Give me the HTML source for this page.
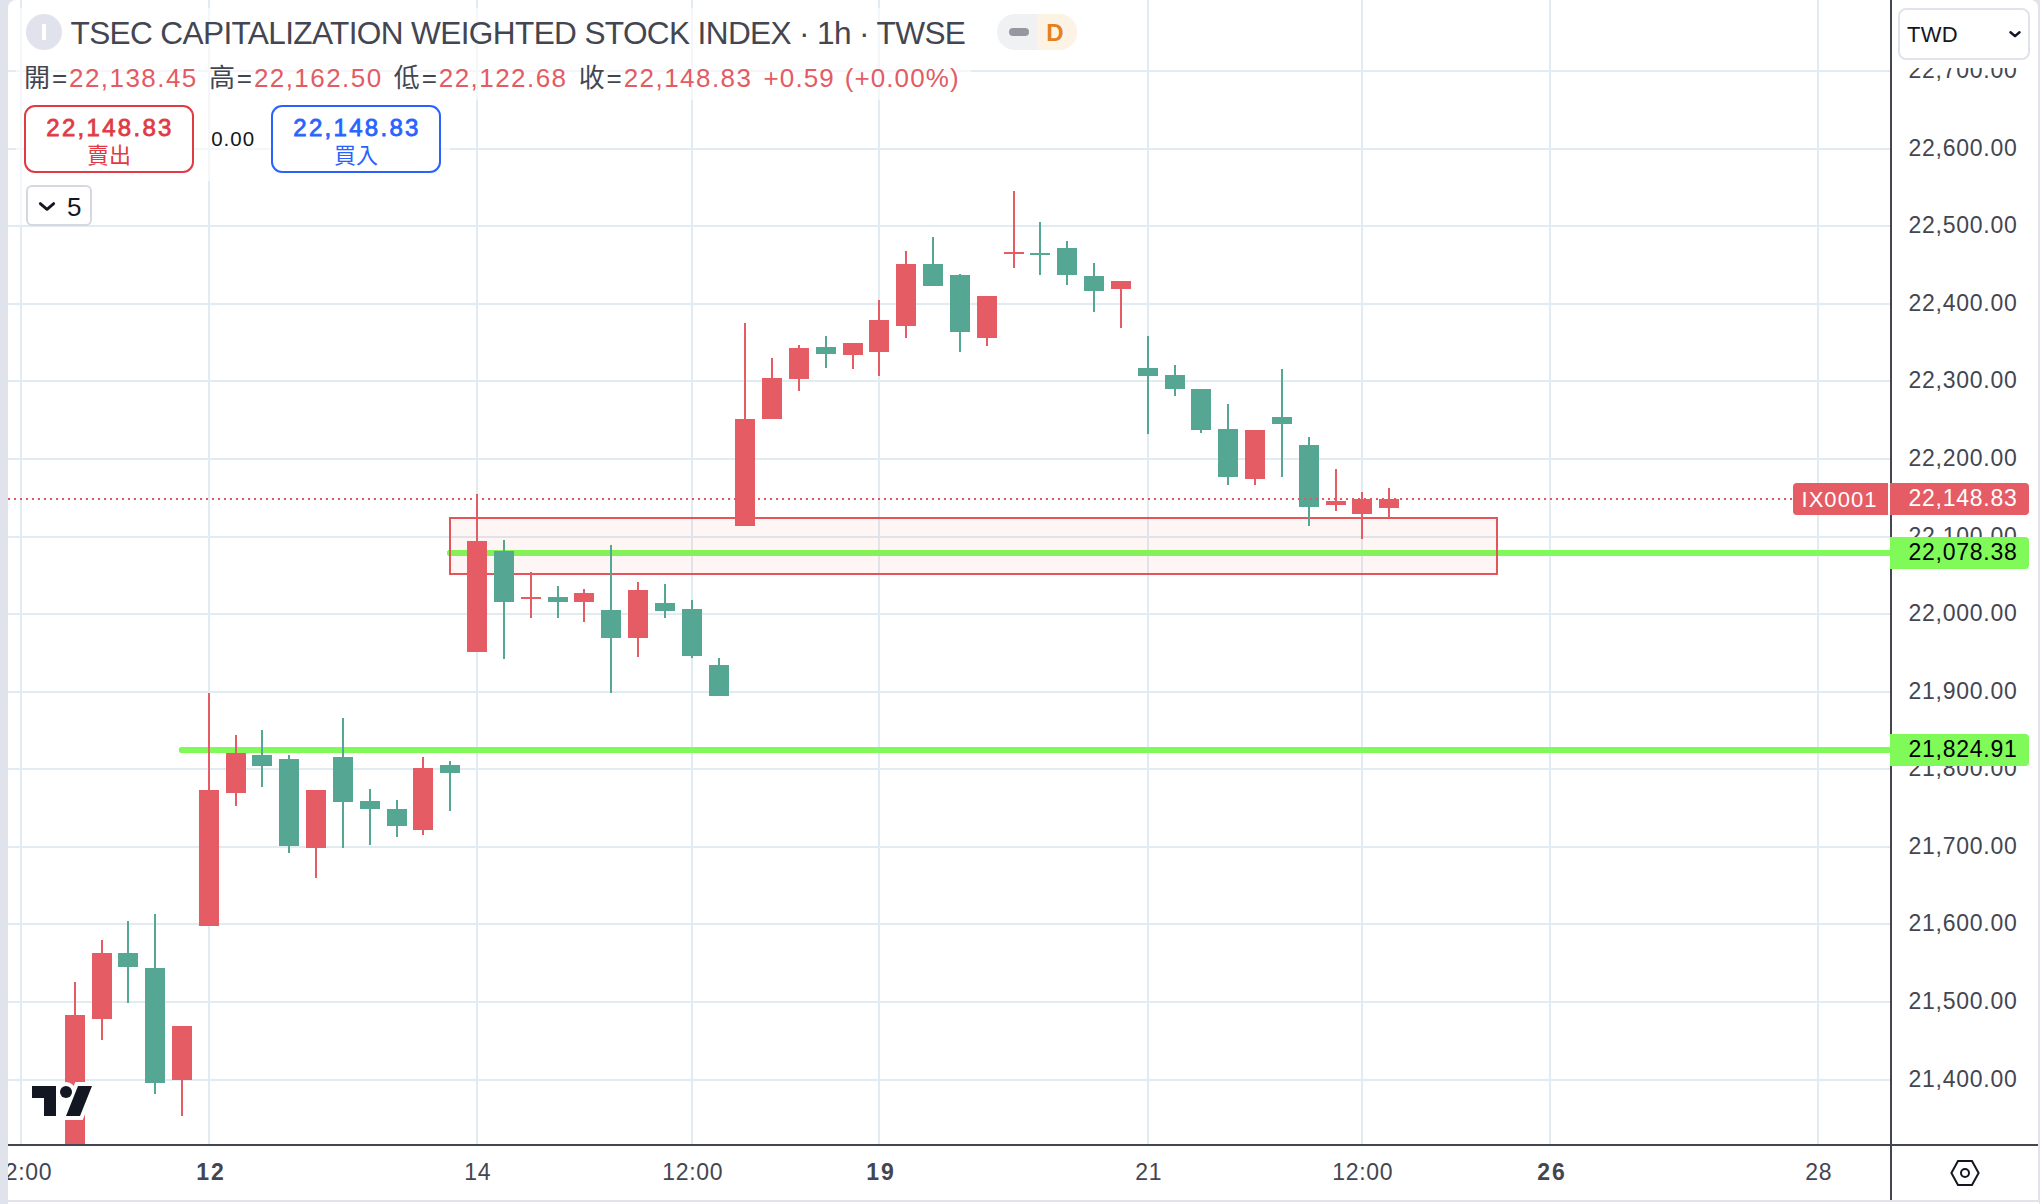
<!DOCTYPE html>
<html lang="zh-Hant">
<head>
<meta charset="utf-8">
<title>TSEC CAPITALIZATION WEIGHTED STOCK INDEX</title>
<style>
html,body{margin:0;padding:0}
body{width:2040px;height:1204px;overflow:hidden;background:#e0e3eb;position:relative;
 font-family:"Liberation Sans","Noto Sans CJK TC",sans-serif;color:#434651}
.panel{position:absolute;left:8px;top:0;width:2030px;height:1200px;background:#fff;border-radius:8px 8px 0 0}
.below{position:absolute;left:8px;top:1202px;width:2031px;height:2px;background:#fff}
.clip{position:absolute;left:8px;top:0;width:2030px;height:1200px;overflow:hidden}
.clip>*{position:absolute}
svg.chart{left:-8px;top:0}
.axv{left:1882px;top:0;width:2px;height:1200px;background:#434651}
.axh{left:0;top:1144px;width:2030px;height:2px;background:#434651}
.pl{left:1890.5px;width:129px;height:32px;line-height:32px;text-align:center;font-size:23px;letter-spacing:.75px;color:#434651;white-space:nowrap}
.tl{top:1154px;width:120px;height:36px;line-height:36px;text-align:center;font-size:23px;letter-spacing:.7px;color:#434651;white-space:nowrap;margin-left:-7.3px}
.tl.b{font-weight:bold;letter-spacing:2px;padding-left:1.3px}
.lbg{background:rgba(255,255,255,.62)}
.title{left:62.5px;top:13.7px;height:38px;line-height:38px;font-size:31.6px;color:#434651;white-space:nowrap;letter-spacing:-0.64px}
.logo{left:18px;top:14px;width:36px;height:36px;border-radius:50%;background:#e0e3eb}
.logo i{position:absolute;left:16px;top:10px;width:4px;height:16px;background:#fff}
.pill{left:989px;top:14px;width:80px;height:36px;border-radius:18px;overflow:hidden;background:#f0f1f3}
.pill .r{position:absolute;left:40px;top:0;width:40px;height:36px;background:#fdf3e5}
.pill .d{position:absolute;left:12px;top:14px;width:20px;height:8px;border-radius:4px;background:#9598a1}
.pill b{position:absolute;left:40px;top:0;width:36px;text-align:center;line-height:37px;font-size:24px;color:#e5801d}
.ohlc{left:16px;top:61px;height:34px;line-height:34px;font-size:26px;white-space:nowrap;color:#434651;letter-spacing:1.1px;word-spacing:2.85px}
.ohlc i{font-style:normal;letter-spacing:1.9px}
.ohlc span.c{word-spacing:1.5px;letter-spacing:1.1px}
.ohlc span{color:#e35b63;letter-spacing:1.45px}
.btn{top:105px;width:166px;height:64px;border:2px solid;border-radius:11px;background:#fff;text-align:center}
.btn .p{position:absolute;left:2px;right:0;top:7px;line-height:28px;font-size:24px;font-weight:normal;-webkit-text-stroke:.8px currentColor;letter-spacing:2.3px}
.btn .t{position:absolute;left:0;right:0;top:35px;line-height:28px;font-size:22px}
.sell{left:16px;border-color:#e03b45;color:#e03b45}
.buy{left:263px;border-color:#2962ff;color:#2962ff}
.spread{left:192.6px;top:122.5px;width:65px;text-align:center;line-height:32px;font-size:20.5px;color:#131722;letter-spacing:1px}
.coll{left:18px;top:185px;width:62px;height:37px;border:2px solid #d5d8e0;border-radius:6px;background:#fff}
.coll span{position:absolute;left:39px;top:0.5px;line-height:38px;font-size:26px;color:#131722}
.twdwrap{left:1884px;top:0;width:146px;height:68px;background:#fff;border-top-right-radius:8px}
.twd{left:1890px;top:8px;width:128px;height:48px;border:2px solid #e0e3eb;border-radius:8px;background:#fff}
.twd span{position:absolute;left:7px;top:-1.5px;line-height:52px;font-size:22px;color:#131722;letter-spacing:.3px}
.lab{height:32px;line-height:30px;color:#fff;font-size:23px;letter-spacing:.75px;text-align:center;white-space:nowrap;box-sizing:border-box}
.ix{left:1785px;top:483px;width:95px;background:#e55c64;border-radius:4px 0 0 4px;letter-spacing:1.05px;padding-right:2px;font-size:22px;line-height:33px}
.lp{left:1882px;top:483px;width:139px;background:#e55c64;border-radius:0 4px 4px 0;padding-left:7px}
.lg{left:1882px;width:139px;background:#7ffa59;color:#000;border-radius:0 4px 4px 0;padding-left:7px}
</style>
</head>
<body>
<div class="panel"></div>
<div class="below"></div>
<div class="clip">
<svg class="chart" width="2040" height="1204" viewBox="0 0 2040 1204" shape-rendering="crispEdges">
<rect x="8" y="70" width="1882" height="2" fill="#e1ebf2"/>
<rect x="8" y="148" width="1882" height="2" fill="#e1ebf2"/>
<rect x="8" y="225" width="1882" height="2" fill="#e1ebf2"/>
<rect x="8" y="303" width="1882" height="2" fill="#e1ebf2"/>
<rect x="8" y="380" width="1882" height="2" fill="#e1ebf2"/>
<rect x="8" y="458" width="1882" height="2" fill="#e1ebf2"/>
<rect x="8" y="536" width="1882" height="2" fill="#e1ebf2"/>
<rect x="8" y="613" width="1882" height="2" fill="#e1ebf2"/>
<rect x="8" y="691" width="1882" height="2" fill="#e1ebf2"/>
<rect x="8" y="768" width="1882" height="2" fill="#e1ebf2"/>
<rect x="8" y="846" width="1882" height="2" fill="#e1ebf2"/>
<rect x="8" y="923" width="1882" height="2" fill="#e1ebf2"/>
<rect x="8" y="1001" width="1882" height="2" fill="#e1ebf2"/>
<rect x="8" y="1079" width="1882" height="2" fill="#e1ebf2"/>
<rect x="20" y="0" width="2" height="1144" fill="#e1ebf2"/>
<rect x="208" y="0" width="2" height="1144" fill="#e1ebf2"/>
<rect x="476" y="0" width="2" height="1144" fill="#e1ebf2"/>
<rect x="691" y="0" width="2" height="1144" fill="#e1ebf2"/>
<rect x="878" y="0" width="2" height="1144" fill="#e1ebf2"/>
<rect x="1147" y="0" width="2" height="1144" fill="#e1ebf2"/>
<rect x="1361" y="0" width="2" height="1144" fill="#e1ebf2"/>
<rect x="1549" y="0" width="2" height="1144" fill="#e1ebf2"/>
<rect x="1817" y="0" width="2" height="1144" fill="#e1ebf2"/>
<line x1="182" y1="750" x2="1890" y2="750" stroke="#7ffa59" stroke-width="6" stroke-linecap="round"/>
<line x1="450" y1="553" x2="1890" y2="553" stroke="#7ffa59" stroke-width="6" stroke-linecap="round"/>
<rect x="450" y="518" width="1047" height="56" fill="rgba(242,70,50,0.05)" stroke="#e4545d" stroke-width="2"/>
<rect x="74" y="982" width="2" height="162" fill="#e55c64"/>
<rect x="65" y="1015" width="20" height="129" fill="#e55c64"/>
<rect x="101" y="940" width="2" height="100" fill="#e55c64"/>
<rect x="92" y="953" width="20" height="66" fill="#e55c64"/>
<rect x="127" y="921" width="2" height="82" fill="#55a793"/>
<rect x="118" y="953" width="20" height="14" fill="#55a793"/>
<rect x="154" y="914" width="2" height="180" fill="#55a793"/>
<rect x="145" y="968" width="20" height="115" fill="#55a793"/>
<rect x="181" y="1026" width="2" height="90" fill="#e55c64"/>
<rect x="172" y="1026" width="20" height="54" fill="#e55c64"/>
<rect x="208" y="693" width="2" height="233" fill="#e55c64"/>
<rect x="199" y="790" width="20" height="136" fill="#e55c64"/>
<rect x="235" y="735" width="2" height="71" fill="#e55c64"/>
<rect x="226" y="753" width="20" height="40" fill="#e55c64"/>
<rect x="261" y="730" width="2" height="57" fill="#55a793"/>
<rect x="252" y="755" width="20" height="11" fill="#55a793"/>
<rect x="288" y="755" width="2" height="98" fill="#55a793"/>
<rect x="279" y="759" width="20" height="87" fill="#55a793"/>
<rect x="315" y="790" width="2" height="88" fill="#e55c64"/>
<rect x="306" y="790" width="20" height="58" fill="#e55c64"/>
<rect x="342" y="718" width="2" height="130" fill="#55a793"/>
<rect x="333" y="757" width="20" height="45" fill="#55a793"/>
<rect x="369" y="789" width="2" height="56" fill="#55a793"/>
<rect x="360" y="801" width="20" height="8" fill="#55a793"/>
<rect x="396" y="800" width="2" height="37" fill="#55a793"/>
<rect x="387" y="809" width="20" height="17" fill="#55a793"/>
<rect x="422" y="757" width="2" height="78" fill="#e55c64"/>
<rect x="413" y="768" width="20" height="62" fill="#e55c64"/>
<rect x="449" y="761" width="2" height="50" fill="#55a793"/>
<rect x="440" y="765" width="20" height="8" fill="#55a793"/>
<rect x="476" y="494" width="2" height="158" fill="#e55c64"/>
<rect x="467" y="541" width="20" height="111" fill="#e55c64"/>
<rect x="503" y="540" width="2" height="119" fill="#55a793"/>
<rect x="494" y="551" width="20" height="51" fill="#55a793"/>
<rect x="530" y="572" width="2" height="46" fill="#e55c64"/>
<rect x="521" y="597" width="20" height="2" fill="#e55c64"/>
<rect x="557" y="586" width="2" height="32" fill="#55a793"/>
<rect x="548" y="597" width="20" height="5" fill="#55a793"/>
<rect x="583" y="589" width="2" height="33" fill="#e55c64"/>
<rect x="574" y="593" width="20" height="9" fill="#e55c64"/>
<rect x="610" y="545" width="2" height="148" fill="#55a793"/>
<rect x="601" y="610" width="20" height="28" fill="#55a793"/>
<rect x="637" y="582" width="2" height="75" fill="#e55c64"/>
<rect x="628" y="590" width="20" height="48" fill="#e55c64"/>
<rect x="664" y="584" width="2" height="34" fill="#55a793"/>
<rect x="655" y="603" width="20" height="8" fill="#55a793"/>
<rect x="691" y="600" width="2" height="58" fill="#55a793"/>
<rect x="682" y="609" width="20" height="47" fill="#55a793"/>
<rect x="718" y="658" width="2" height="38" fill="#55a793"/>
<rect x="709" y="665" width="20" height="31" fill="#55a793"/>
<rect x="744" y="323" width="2" height="203" fill="#e55c64"/>
<rect x="735" y="419" width="20" height="107" fill="#e55c64"/>
<rect x="771" y="358" width="2" height="61" fill="#e55c64"/>
<rect x="762" y="378" width="20" height="41" fill="#e55c64"/>
<rect x="798" y="345" width="2" height="46" fill="#e55c64"/>
<rect x="789" y="348" width="20" height="31" fill="#e55c64"/>
<rect x="825" y="336" width="2" height="32" fill="#55a793"/>
<rect x="816" y="347" width="20" height="7" fill="#55a793"/>
<rect x="852" y="343" width="2" height="26" fill="#e55c64"/>
<rect x="843" y="343" width="20" height="12" fill="#e55c64"/>
<rect x="878" y="300" width="2" height="76" fill="#e55c64"/>
<rect x="869" y="320" width="20" height="32" fill="#e55c64"/>
<rect x="905" y="251" width="2" height="87" fill="#e55c64"/>
<rect x="896" y="264" width="20" height="62" fill="#e55c64"/>
<rect x="932" y="237" width="2" height="49" fill="#55a793"/>
<rect x="923" y="264" width="20" height="22" fill="#55a793"/>
<rect x="959" y="274" width="2" height="78" fill="#55a793"/>
<rect x="950" y="275" width="20" height="57" fill="#55a793"/>
<rect x="986" y="296" width="2" height="50" fill="#e55c64"/>
<rect x="977" y="296" width="20" height="42" fill="#e55c64"/>
<rect x="1013" y="191" width="2" height="77" fill="#e55c64"/>
<rect x="1004" y="252" width="20" height="2" fill="#e55c64"/>
<rect x="1039" y="222" width="2" height="53" fill="#55a793"/>
<rect x="1030" y="253" width="20" height="2" fill="#55a793"/>
<rect x="1066" y="241" width="2" height="44" fill="#55a793"/>
<rect x="1057" y="248" width="20" height="27" fill="#55a793"/>
<rect x="1093" y="263" width="2" height="49" fill="#55a793"/>
<rect x="1084" y="276" width="20" height="15" fill="#55a793"/>
<rect x="1120" y="281" width="2" height="47" fill="#e55c64"/>
<rect x="1111" y="281" width="20" height="8" fill="#e55c64"/>
<rect x="1147" y="336" width="2" height="98" fill="#55a793"/>
<rect x="1138" y="368" width="20" height="8" fill="#55a793"/>
<rect x="1174" y="365" width="2" height="31" fill="#55a793"/>
<rect x="1165" y="375" width="20" height="14" fill="#55a793"/>
<rect x="1200" y="389" width="2" height="44" fill="#55a793"/>
<rect x="1191" y="389" width="20" height="41" fill="#55a793"/>
<rect x="1227" y="404" width="2" height="81" fill="#55a793"/>
<rect x="1218" y="429" width="20" height="48" fill="#55a793"/>
<rect x="1254" y="430" width="2" height="55" fill="#e55c64"/>
<rect x="1245" y="430" width="20" height="49" fill="#e55c64"/>
<rect x="1281" y="369" width="2" height="108" fill="#55a793"/>
<rect x="1272" y="417" width="20" height="7" fill="#55a793"/>
<rect x="1308" y="437" width="2" height="89" fill="#55a793"/>
<rect x="1299" y="445" width="20" height="62" fill="#55a793"/>
<rect x="1335" y="469" width="2" height="42" fill="#e55c64"/>
<rect x="1326" y="501" width="20" height="4" fill="#e55c64"/>
<rect x="1361" y="492" width="2" height="47" fill="#e55c64"/>
<rect x="1352" y="499" width="20" height="15" fill="#e55c64"/>
<rect x="1388" y="488" width="2" height="29" fill="#e55c64"/>
<rect x="1379" y="499" width="20" height="9" fill="#e55c64"/>
<line x1="8" y1="499" x2="1793" y2="499" stroke="#e5565f" stroke-width="2" stroke-dasharray="2 4" stroke-dashoffset="0"/>
<g shape-rendering="geometricPrecision"><g stroke="#fff" stroke-width="8" stroke-linejoin="miter" fill="#fff"><path d="M32 1086H56V1116H44V1098H32Z"/><circle cx="66" cy="1092" r="6"/><path d="M78 1086H92L80 1116H66Z"/><path d="M60 1094H74L68 1112H58Z" stroke="none"/></g><g fill="#131722"><path d="M32 1086H56V1116H44V1098H32Z"/><circle cx="66" cy="1092" r="6"/><path d="M78 1086H92L80 1116H66Z"/></g></g>
</svg>
<div class="axv"></div>
<div class="axh"></div>
<div class="pl" style="top:54px">22,700.00</div>
<div class="pl" style="top:132px">22,600.00</div>
<div class="pl" style="top:209px">22,500.00</div>
<div class="pl" style="top:287px">22,400.00</div>
<div class="pl" style="top:364px">22,300.00</div>
<div class="pl" style="top:442px">22,200.00</div>
<div class="pl" style="top:520px">22,100.00</div>
<div class="pl" style="top:597px">22,000.00</div>
<div class="pl" style="top:675px">21,900.00</div>
<div class="pl" style="top:752px">21,800.00</div>
<div class="pl" style="top:830px">21,700.00</div>
<div class="pl" style="top:907px">21,600.00</div>
<div class="pl" style="top:985px">21,500.00</div>
<div class="pl" style="top:1063px">21,400.00</div>
<div class="tl" style="left:-39px">12:00</div>
<div class="tl b" style="left:149px">12</div>
<div class="tl" style="left:417px">14</div>
<div class="tl" style="left:632px">12:00</div>
<div class="tl b" style="left:819px">19</div>
<div class="tl" style="left:1088px">21</div>
<div class="tl" style="left:1302px">12:00</div>
<div class="tl b" style="left:1490px">26</div>
<div class="tl" style="left:1758px">28</div>

<div class="lbg" style="left:8px;top:8px;width:1069px;height:50px"></div>
<div class="lbg" style="left:8px;top:58px;width:955px;height:42px"></div>
<div class="lbg" style="left:8px;top:100px;width:434px;height:81px"></div>
<div class="lbg" style="left:8px;top:181px;width:84px;height:44px"></div>
<div class="logo"><i></i></div>
<div class="title">TSEC CAPITALIZATION WEIGHTED STOCK INDEX · 1h · TWSE</div>
<div class="pill"><div class="r"></div><div class="d"></div><b>D</b></div>
<div class="ohlc"><i>開=</i><span>22,138.45</span> <i>高=</i><span>22,162.50</span> <i>低=</i><span>22,122.68</span> <i>收=</i><span>22,148.83</span> <span class="c">+0.59 (+0.00%)</span></div>
<div class="btn sell"><div class="p">22,148.83</div><div class="t">賣出</div></div>
<div class="spread">0.00</div>
<div class="btn buy"><div class="p">22,148.83</div><div class="t">買入</div></div>
<div class="coll"><svg width="62" height="37" viewBox="0 0 62 37" style="position:absolute;left:0;top:0"><path d="M12.3 16.6 L19 22.4 L25.7 16.6" fill="none" stroke="#131722" stroke-width="2.8" stroke-linecap="round" stroke-linejoin="round"/></svg><span>5</span></div>

<div class="twdwrap"></div>
<div class="twd"><span>TWD</span><svg width="128" height="48" viewBox="0 0 128 48" style="position:absolute;left:0;top:0"><path d="M110.5 22.3 L115 26.1 L119.5 22.3" fill="none" stroke="#131722" stroke-width="2.5" stroke-linecap="round" stroke-linejoin="round"/></svg></div>

<div class="lab ix">IX0001</div>
<div class="lab lp">22,148.83</div>
<div class="lab lg" style="top:537px">22,078.38</div>
<div class="lab lg" style="top:734px">21,824.91</div>

<svg style="left:1942px;top:1158px" width="30" height="30" viewBox="0 0 30 30"><path d="M1.4 15 L8 3 H22 L28.6 15 L22 27 H8 Z" fill="none" stroke="#131722" stroke-width="2" stroke-linejoin="miter"/><circle cx="15" cy="15" r="4" fill="none" stroke="#131722" stroke-width="2"/></svg>
</div>
</body>
</html>
